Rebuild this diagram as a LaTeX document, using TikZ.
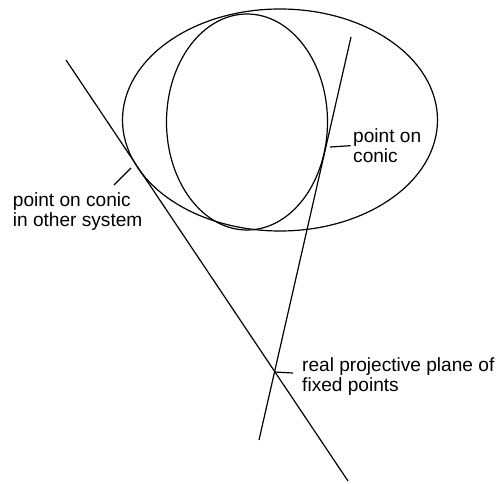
\documentclass[tikz,border=0pt]{standalone}
\usepackage{fontspec}
\setmainfont{Liberation Sans}
\begin{document}
\begin{tikzpicture}[x=1pt,y=-1pt,
  curve/.style={line width=1.2pt},
  lbl/.style={anchor=west,inner sep=0pt,align=left,font=\fontsize{19.1}{20}\selectfont}]
\useasboundingbox (0,0) rectangle (499,484);
\draw[curve] (280,120) ellipse [x radius=157.5pt, y radius=111pt];
\draw[curve] (247,122) ellipse [x radius=80.5pt, y radius=108pt];
\coordinate (a1) at (66,60);
\coordinate (a2) at (348,481);
\coordinate (b1) at (351,37);
\coordinate (b2) at (259,440);
\draw[curve] (a1) -- (a2);
\draw[curve] (b1) -- (b2);
\node[lbl] (l1) at (353,146) {point on\\conic};
\node[lbl] (l2) at (12.7,212) {point on conic\\in other system};
\node[lbl] (l3) at (302,377) {real projective plane of\\fixed points};
\coordinate (t1a) at (330,147);
\coordinate (t1b) at (350.5,145.7);
\coordinate (t2a) at (131,168);
\coordinate (t2b) at (114,185);
\coordinate (t3a) at (274.5,372);
\coordinate (t3b) at (293,373);
\draw[curve] (t1a) -- (t1b);
\draw[curve] (t2a) -- (t2b);
\draw[curve] (t3a) -- (t3b);
\end{tikzpicture}
\end{document}
